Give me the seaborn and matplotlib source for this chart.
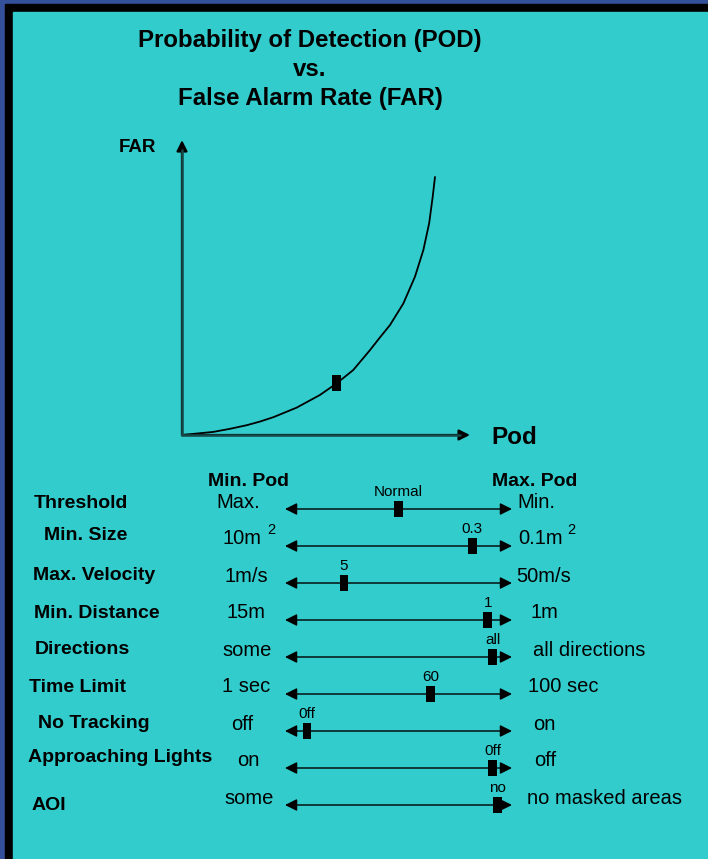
import numpy as np
import pandas as pd
import seaborn as sns
import matplotlib.pyplot as plt
from matplotlib.patches import Rectangle
from matplotlib.markers import MarkerStyle

# POD / FAR trade-off curve (0..1 scale)
pod = [0.0, 0.124, 0.19, 0.256, 0.308, 0.361, 0.453, 0.545, 0.611, 0.677, 0.743, 0.783,
       0.822, 0.875, 0.921, 0.954, 0.977, 0.991, 1.0]
far = [0.0, 0.012, 0.024, 0.038, 0.052, 0.069, 0.106, 0.155, 0.200, 0.252, 0.329, 0.379,
       0.426, 0.510, 0.614, 0.717, 0.821, 0.924, 1.0]
op_pod = [0.611]
op_far = [0.200]

# slider settings
params = ['Threshold', 'Min. Size', 'Max. Velocity', 'Min. Distance', 'Directions',
          'Time Limit', 'No Tracking', 'Approaching Lights', 'AOI']
left_vals = ['Max.', '10m', '1m/s', '15m', 'some', '1 sec', 'off', 'on', 'some']
right_vals = ['Min.', '0.1m', '50m/s', '1m', 'all directions', '100 sec', 'on', 'off', 'no masked areas']
setting = ['Normal', '0.3', '5', '1', 'all', '60', '0ff', '0ff', 'no']
slider_pos = [0.498, 0.824, 0.260, 0.894, 0.916, 0.643, 0.097, 0.916, 0.938]

sns.set_theme(style='white')
plt.rcParams['font.family'] = ['Liberation Sans', 'DejaVu Sans']
plt.rcParams['text.color'] = 'black'

teal = '#33cccc'
fig = plt.figure(figsize=(7.08, 8.59), dpi=100, facecolor='#34509a')

# layout layer in pixel coords
lay = fig.add_axes([0, 0, 1, 1])
lay.set_xlim(0, 708)
lay.set_ylim(859, 0)
lay.axis('off')
lay.add_patch(Rectangle((5, 4), 703, 855, color='black'))
lay.add_patch(Rectangle((13, 12), 695, 847, color=teal))

lay.text(310, 46.7, 'Probability of Detection (POD)', ha='center', va='baseline', fontsize=17.3, fontweight='bold')
lay.text(310, 76, 'vs.', ha='center', va='baseline', fontsize=17.3, fontweight='bold')
lay.text(310, 105, 'False Alarm Rate (FAR)', ha='center', va='baseline', fontsize=17.3, fontweight='bold')
lay.text(137, 148, 'FAR', ha='center', va='center', fontsize=13.5, fontweight='bold')
lay.text(491, 437, 'Pod', ha='left', va='center', fontsize=17.5, fontweight='bold')

# curve
ax = fig.add_axes([182 / 708, 1 - 435 / 859, 253 / 708, 258 / 859])
ax.set_xlim(0, 1)
ax.set_ylim(0, 1)
ax.axis('off')
axcol = '#174a4a'
for tip in [(0, 1.143), (1.138, 0)]:
    ax.annotate('', xy=tip, xytext=(0, 0), xycoords='axes fraction',
                arrowprops=dict(arrowstyle='-|>', color='black', lw=1.6, mutation_scale=16,
                                shrinkA=0, shrinkB=0), annotation_clip=False)
# dark teal shafts over the black arrows
ax.plot([0, 0], [0, 1.105], color=axcol, lw=1.8, transform=ax.transAxes, clip_on=False, zorder=3)
ax.plot([0, 1.1], [0, 0], color=axcol, lw=1.8, transform=ax.transAxes, clip_on=False, zorder=3)
sns.lineplot(x=pod, y=far, ax=ax, color='black', linewidth=1.3, sort=False, clip_on=False)
rect = MarkerStyle([(-0.28, -0.5), (0.28, -0.5), (0.28, 0.5), (-0.28, 0.5), (-0.28, -0.5)])
sns.scatterplot(x=op_pod, y=op_far, ax=ax, marker=rect, s=132, color='black',
                edgecolor='none', linewidth=0, zorder=4, clip_on=False)
ax.set_xlabel('')
ax.set_ylabel('')

# sliders
sax = fig.add_axes([285 / 708, 1 - 823.5 / 859, 227 / 708, 333 / 859])
sax.set_xlim(0, 1)
sax.set_ylim(8.5, -0.5)
sax.axis('off')
rows = np.arange(len(params))
for i in rows:
    sax.annotate('', xy=(1, i), xytext=(0, i),
                 arrowprops=dict(arrowstyle='<|-|>', color='black', lw=1.0, mutation_scale=18,
                                 shrinkA=0, shrinkB=0))
    sax.annotate(setting[i], xy=(slider_pos[i], i), xytext=(0, 12.5), textcoords='offset points',
                 ha='center', va='center', fontsize=11)
sns.scatterplot(x=slider_pos, y=rows, ax=sax, marker=rect, s=132, color='black',
                edgecolor='none', linewidth=0, zorder=4, clip_on=False)
sax.set_xlabel('')
sax.set_ylabel('')

# text columns
lay.text(249, 481, 'Min. Pod', ha='center', va='center', fontsize=14, fontweight='bold')
lay.text(535, 481, 'Max. Pod', ha='center', va='center', fontsize=14, fontweight='bold')

label_x = [34, 44, 33, 34, 35, 29, 38, 28, 32]
label_y = [504, 535, 576, 613, 650, 687, 723, 758, 806]
left_x = [238, 242, 246, 246, 247, 246, 242, 248, 249]
right_x = [517, 518, 516, 531, 533, 528, 533, 534, 527]
for i in rows:
    ly = 509 + 37 * i - 7
    lay.text(label_x[i], label_y[i], params[i], ha='left', va='center', fontsize=14, fontweight='bold')
    lay.text(left_x[i], ly, left_vals[i], ha='center', va='center', fontsize=14.5)
    lay.text(right_x[i], ly, right_vals[i], ha='left', va='center', fontsize=14.5)
lay.text(271, 530, '2', ha='center', va='center', fontsize=10.5)
lay.text(571, 530, '2', ha='center', va='center', fontsize=10.5)

fig.savefig('out.png', dpi=100, facecolor=fig.get_facecolor())
